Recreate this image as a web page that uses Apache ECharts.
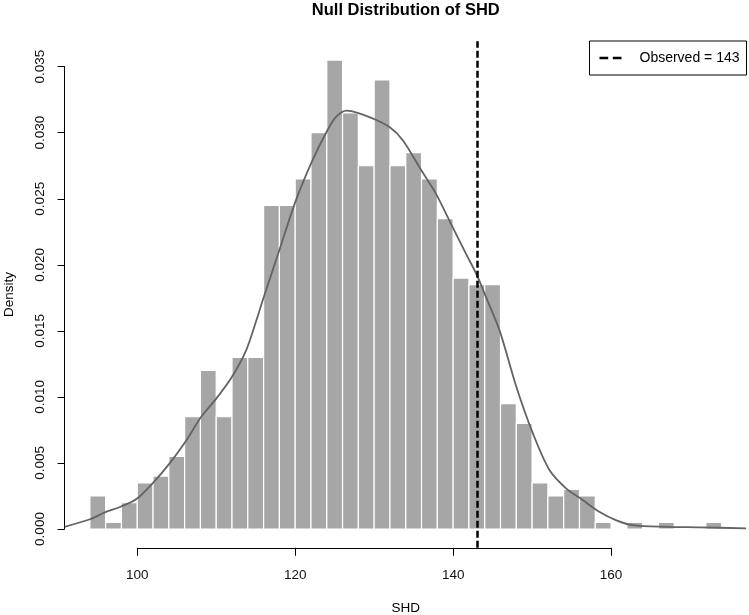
<!DOCTYPE html>
<html>
<head>
<meta charset="utf-8">
<script src="https://cdn.jsdelivr.net/npm/echarts@6/dist/echarts.min.js"></script>
<style>
html,body{margin:0;padding:0;background:#fff;}
#chart{width:749px;height:615px;}
</style>
</head>
<body>
<div id="chart"></div>
<script>
// ---- data ----
const binLeft  = [94, 96, 98, 100, 102, 104, 106, 108, 110, 112, 114, 116, 118, 120, 122, 124, 126, 128, 130, 132,
                  134, 136, 138, 140, 142, 144, 146, 148, 150, 152, 154, 156, 158, 160, 162, 164, 166, 168, 170, 172];
const binRight = [96, 98, 100, 102, 104, 106, 108, 110, 112, 114, 116, 118, 120, 122, 124, 126, 128, 130, 132, 134,
                  136, 138, 140, 142, 144, 146, 148, 150, 152, 154, 156, 158, 160, 162, 164, 166, 168, 170, 172, 174];
const density  = [0.0025, 0.0005, 0.0020, 0.0035, 0.0040, 0.0055, 0.0085, 0.0120, 0.0085, 0.0130,
                  0.0130, 0.0245, 0.0245, 0.0265, 0.0300, 0.0355, 0.0315, 0.0275, 0.0340, 0.0275,
                  0.0285, 0.0265, 0.0235, 0.0190, 0.0185, 0.0185, 0.0095, 0.0080, 0.0035, 0.0025,
                  0.0030, 0.0025, 0.0005, 0.0000, 0.0005, 0.0000, 0.0005, 0.0000, 0.0000, 0.0005];

const kdeX = [90.8, 94.1, 95.9, 97.9, 99.9, 102.0, 104.1, 106.1, 108.1, 110.0, 112.0, 113.8, 115.1, 115.9,
              118.0, 120.1, 122.2, 124.1, 125.2, 126.5, 127.9, 129.8, 131.9, 133.6, 135.95, 137.8, 139.7,
              141.6, 143.0, 144.1, 145.9, 148.0, 150.1, 152.2, 154.3, 156.4, 158.5, 160.6, 162.7, 167.0,
              171.2, 177.1];
const kdeY = [0.00017, 0.00076, 0.00126, 0.00169, 0.00227, 0.00350, 0.00497, 0.00660, 0.00850, 0.00987,
              0.01153, 0.01355, 0.01582, 0.01734, 0.02112, 0.02490, 0.02793, 0.03021, 0.03121, 0.03167,
              0.03151, 0.03109, 0.03045, 0.02945, 0.02718, 0.02541, 0.02314, 0.02087, 0.01923, 0.01765,
              0.01500, 0.01077, 0.00724, 0.00447, 0.00308, 0.00220, 0.00131, 0.00068, 0.00030, 0.00017,
              0.00013, 0.00005];

const observed = 143;
const xTicks = [100, 120, 140, 160];
const yTicks = [0.000, 0.005, 0.010, 0.015, 0.020, 0.025, 0.030, 0.035];

const titleText = 'Null Distribution of SHD';
const xLabel = 'SHD';
const yLabel = 'Density';

// ---- chart ----
const FONT = '"Liberation Sans", Arial, Helvetica, sans-serif';
const histData = binLeft.map((l, i) => [l, binRight[i], density[i]]);
const kdeData = kdeX.map((x, i) => [x, kdeY[i]]);

const chart = echarts.init(document.getElementById('chart'), null, {renderer: 'canvas'});

const hiddenAxisBase = {
  axisLine: {show: false}, axisTick: {show: false}, axisLabel: {show: false}, splitLine: {show: false}
};

chart.setOption({
  animation: false,
  backgroundColor: '#fff',
  graphic: [{
    type: 'text', x: 405.8, y: 10,
    style: {text: titleText, font: 'bold 16.5px ' + FONT, fill: '#000', align: 'center', verticalAlign: 'middle'}
  }],
  grid: [
    {left: 64.6, top: 41.3, width: 682.3, height: 506.5, outerBoundsMode: 'none'},
    {left: 137.3, top: 41.3, width: 473.8, height: 506.5, outerBoundsMode: 'none'},
    {left: 64.6, top: 66.65, width: 682.3, height: 462.35, outerBoundsMode: 'none'}
  ],
  xAxis: [
    Object.assign({type: 'value', gridIndex: 0, min: 90.8, max: 177.2,
      name: xLabel, nameLocation: 'middle', nameGap: 53,
      nameTextStyle: {fontFamily: FONT, fontSize: 13.5, color: '#000'}}, hiddenAxisBase),
    {type: 'value', gridIndex: 1, min: xTicks[0], max: xTicks[xTicks.length - 1], interval: 20,
      axisLine: {show: true, onZero: false, lineStyle: {color: '#000', width: 1}},
      axisTick: {show: true, inside: false, length: 8, lineStyle: {color: '#000', width: 1}},
      axisLabel: {show: true, margin: 20, fontFamily: FONT, fontSize: 13.5, color: '#111'},
      splitLine: {show: false}},
    Object.assign({type: 'value', gridIndex: 2, min: 0, max: 1, show: false}, hiddenAxisBase)
  ],
  yAxis: [
    Object.assign({type: 'value', gridIndex: 0, min: -0.00142, max: 0.03692,
      name: yLabel, nameLocation: 'middle', nameGap: 48, nameRotate: 90,
      nameTextStyle: {fontFamily: FONT, fontSize: 13.5, color: '#000'}}, hiddenAxisBase),
    Object.assign({type: 'value', gridIndex: 1, min: 0, max: 1, show: false}, hiddenAxisBase),
    {type: 'value', gridIndex: 2, min: yTicks[0], max: yTicks[yTicks.length - 1], interval: 0.005,
      axisLine: {show: true, onZero: false, lineStyle: {color: '#000', width: 1}},
      axisTick: {show: true, inside: false, length: 7, lineStyle: {color: '#000', width: 1}},
      axisLabel: {show: true, rotate: 90, margin: 17, fontFamily: FONT, fontSize: 13.5, color: '#111',
        formatter: v => Number(v).toFixed(3)},
      splitLine: {show: false}}
  ],
  legend: {
    right: 2.5, top: 41, orient: 'vertical',
    borderColor: '#000', borderWidth: 1, borderRadius: 0, backgroundColor: '#fff',
    padding: [10, 7, 10, 10],
    itemWidth: 22, itemHeight: 2.6, itemGap: 0,
    selectedMode: false,
    icon: 'path://M0,0H8.7V2.6H0Z M13.3,0H22V2.6H13.3Z',
    textStyle: {fontFamily: FONT, fontSize: 14, color: '#000', padding: [0, 0, 0, 13]},
    data: [{name: 'Observed = ' + observed, itemStyle: {color: '#000', borderWidth: 0}}]
  },
  series: [
    {
      type: 'custom', name: 'hist', xAxisIndex: 0, yAxisIndex: 0,
      data: histData,
      encode: {x: [0, 1], y: 2},
      renderItem: function (params, api) {
        const h = api.value(2);
        if (!h) return null;
        const p0 = api.coord([api.value(0), 0]);
        const p1 = api.coord([api.value(1), h]);
        return {
          type: 'rect',
          shape: {x: p0[0], y: p1[1], width: p1[0] - p0[0], height: p0[1] - p1[1]},
          style: {fill: '#a6a6a6', stroke: '#ffffff', lineWidth: 1.2}
        };
      },
      silent: true
    },
    {
      type: 'line', name: 'kde', xAxisIndex: 0, yAxisIndex: 0,
      data: kdeData, smooth: 0.3, symbol: 'none', showSymbol: false,
      lineStyle: {color: '#636363', width: 1.8}, silent: true, z: 3
    },
    {
      type: 'line', name: 'Observed = ' + observed, xAxisIndex: 0, yAxisIndex: 0,
      data: [], symbol: 'none', color: '#000',
      lineStyle: {color: '#000', width: 2.5, type: [7, 3]},
      markLine: {
        silent: true, symbol: ['none', 'none'], animation: false,
        label: {show: false},
        lineStyle: {color: '#000', width: 2.5, type: [7, 3]},
        emphasis: {disabled: true},
        data: [{xAxis: observed}]
      },
      z: 4
    }
  ]
});
</script>
</body>
</html>
